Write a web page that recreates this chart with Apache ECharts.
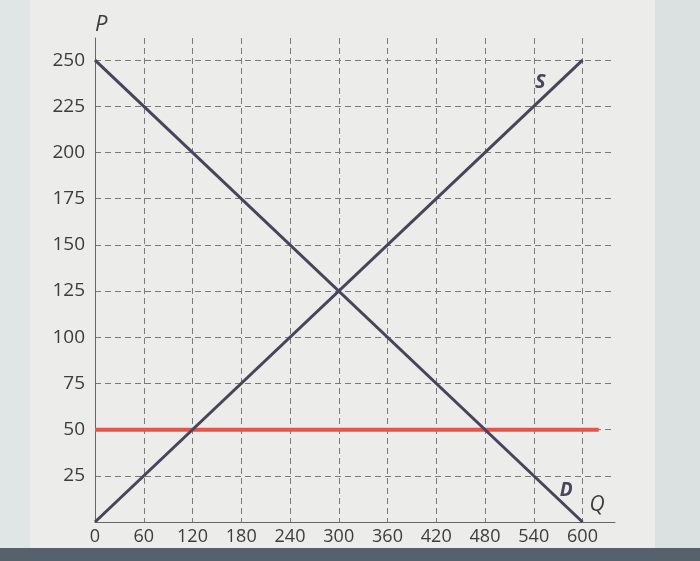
<!DOCTYPE html>
<html><head><meta charset="utf-8">
<script src="https://cdn.jsdelivr.net/npm/echarts@6/dist/echarts.min.js"></script>
<style>html,body{margin:0;padding:0;background:#e9e9e8}#c{width:700px;height:561px}</style>
</head><body><div id="c"></div>
<script>
const quantities = [0, 600];
const supplyPrices = [0, 250];
const demandPrices = [250, 0];
const priceFloorQ = [0, 620];
const priceFloor = [50, 50];
const xTicks = [0, 60, 120, 180, 240, 300, 360, 420, 480, 540, 600];
const yTicks = [0, 25, 50, 75, 100, 125, 150, 175, 200, 225, 250];

const chart = echarts.init(document.getElementById('c'));
const font = '"Open Sans", "DejaVu Sans", sans-serif';
const pairs = (xs, ys) => xs.map((x, i) => [x, ys[i]]);
chart.setOption({
  backgroundColor: '#ececea',
  animation: false,
  graphic: [
    {type: 'rect', left: 0, top: 0, shape: {width: 30, height: 561}, style: {fill: '#e0e5e6'}, z: -10},
    {type: 'rect', left: 655, top: 0, shape: {width: 45, height: 561}, style: {fill: '#dbe1e0'}, z: -10},
    {type: 'rect', left: 0, top: 548, shape: {width: 700, height: 13}, style: {fill: '#56616c'}, z: -10}
  ],
  grid: {left: 95, top: 38, right: 85, bottom: 39, containLabel: false},
  xAxis: {
    type: 'value', min: 0, max: 640, interval: 60,
    axisLine: {show: true, lineStyle: {color: '#666', width: 1}},
    axisTick: {show: false},
    axisLabel: {
      color: '#3c3c3c', fontFamily: font, fontSize: 18, margin: 6,
      formatter: v => xTicks.includes(v) ? String(v) : '', showMaxLabel: false
    },
    splitLine: {show: true, showMinLine: false, showMaxLine: false,
      lineStyle: {color: '#7a7a7a', type: [6, 4], width: 1}}
  },
  yAxis: {
    type: 'value', min: 0, max: 262, interval: 25,
    name: 'P', nameLocation: 'end', nameGap: 2,
    nameTextStyle: {color: '#3c3c3c', fontFamily: font, fontSize: 22, fontStyle: 'italic', align: 'left', padding: [0, 0, 0, 0]},
    axisLine: {show: true, lineStyle: {color: '#666', width: 1}},
    axisTick: {show: false},
    axisLabel: {
      color: '#3c3c3c', fontFamily: font, fontSize: 19, margin: 10,
      formatter: v => (yTicks.includes(v) && v !== 0) ? String(v) : '', showMaxLabel: false
    },
    splitLine: {show: true, showMinLine: false, showMaxLine: false,
      lineStyle: {color: '#7a7a7a', type: [6, 4], width: 1}}
  },
  series: [
    {type: 'line', data: pairs(priceFloorQ, priceFloor), symbol: 'none',
      lineStyle: {color: '#e2564d', width: 4}, z: 3},
    {type: 'line', data: pairs(quantities, supplyPrices), symbol: 'none',
      lineStyle: {color: '#49445a', width: 3}, z: 4,
      markPoint: {symbol: 'rect', symbolSize: 1, itemStyle: {color: 'transparent'},
        label: {show: true, formatter: 'S', color: '#49445a', fontFamily: font, fontSize: 20, fontWeight: 'bold', fontStyle: 'italic'},
        data: [{coord: [548, 238]}]}},
    {type: 'line', data: pairs(quantities, demandPrices), symbol: 'none',
      lineStyle: {color: '#49445a', width: 3}, z: 4,
      markPoint: {symbol: 'rect', symbolSize: 1, itemStyle: {color: 'transparent'},
        label: {show: true, formatter: 'D', color: '#49445a', fontFamily: font, fontSize: 19, fontWeight: 'bold', fontStyle: 'italic'},
        data: [{coord: [580, 17]}]}},
    {type: 'line', data: [], symbol: 'none',
      markPoint: {symbol: 'rect', symbolSize: 1, itemStyle: {color: 'transparent'},
        label: {show: true, formatter: 'Q', color: '#3c3c3c', fontFamily: font, fontSize: 21, fontStyle: 'italic'},
        data: [{coord: [618, 9]}]}}
  ]
});
</script></body></html>
